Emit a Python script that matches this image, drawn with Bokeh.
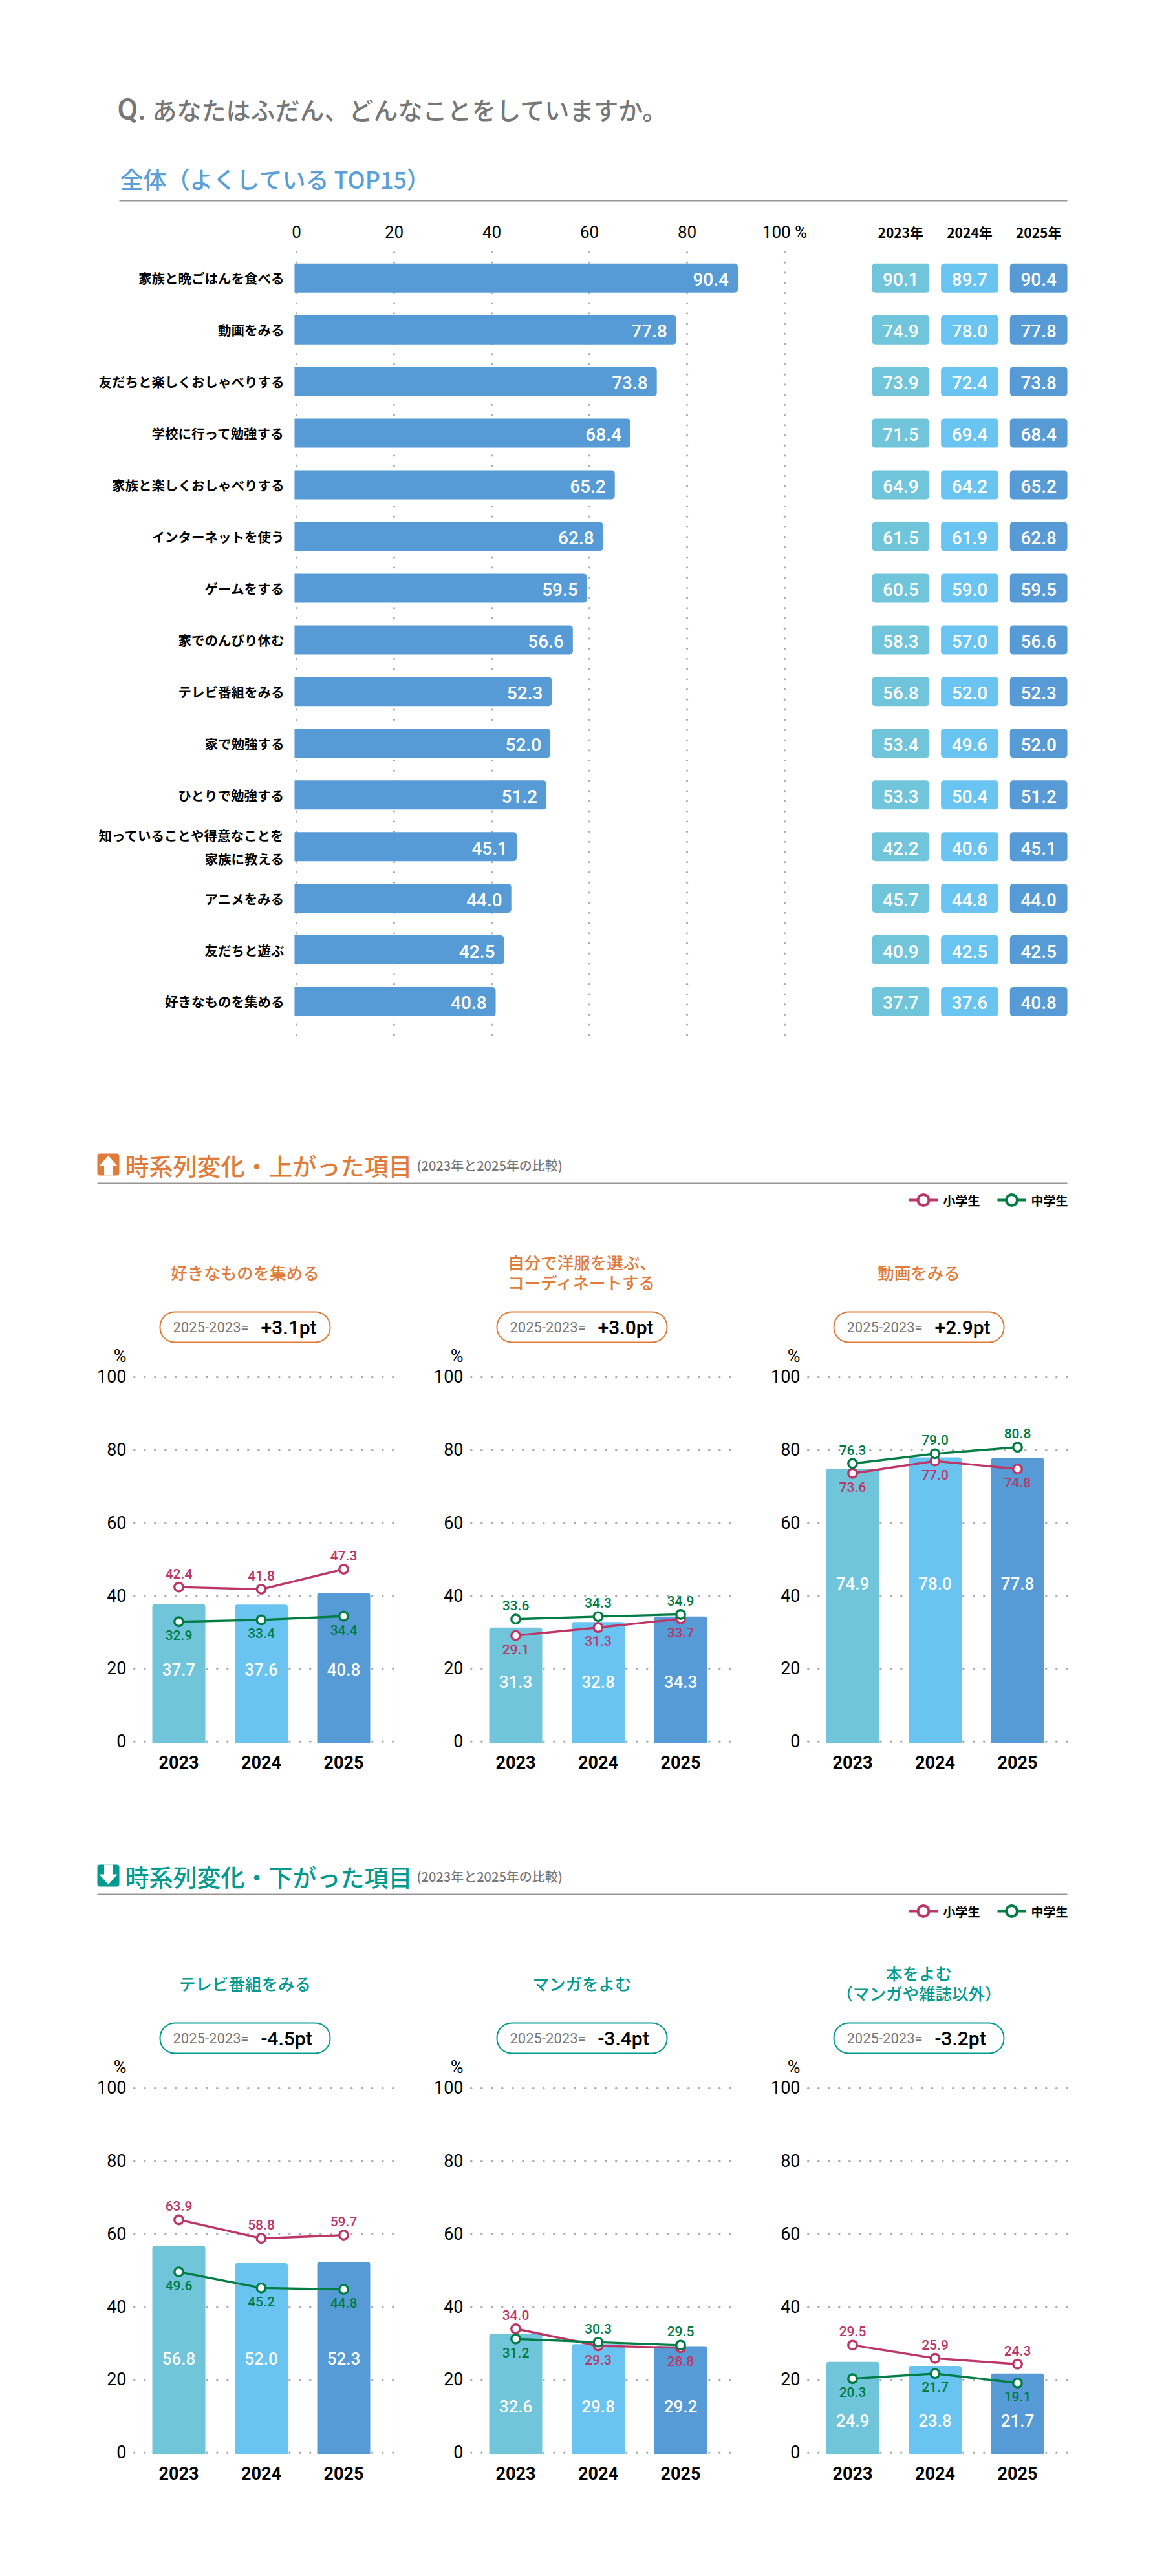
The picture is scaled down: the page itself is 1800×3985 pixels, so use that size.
from bokeh.plotting import figure
from bokeh.layouts import column, row
from bokeh.models import Range1d, FixedTicker, Spacer
from bokeh.core.properties import value
from bokeh.embed import file_html
from bokeh.resources import INLINE
import numpy as np

# ---------- data ----------
top_items = ["家族と晩ごはんを食べる", "動画をみる", "友だちと楽しくおしゃべりする", "学校に行って勉強する",
             "家族と楽しくおしゃべりする", "インターネットを使う", "ゲームをする", "家でのんびり休む",
             "テレビ番組をみる", "家で勉強する", "ひとりで勉強する",
             "知っていることや得意なことを\n家族に教える", "アニメをみる", "友だちと遊ぶ", "好きなものを集める"]
top_2023 = [90.1, 74.9, 73.9, 71.5, 64.9, 61.5, 60.5, 58.3, 56.8, 53.4, 53.3, 42.2, 45.7, 40.9, 37.7]
top_2024 = [89.7, 78.0, 72.4, 69.4, 64.2, 61.9, 59.0, 57.0, 52.0, 49.6, 50.4, 40.6, 44.8, 42.5, 37.6]
top_2025 = [90.4, 77.8, 73.8, 68.4, 65.2, 62.8, 59.5, 56.6, 52.3, 52.0, 51.2, 45.1, 44.0, 42.5, 40.8]
table_years = ["2023年", "2024年", "2025年"]
years = [2023, 2024, 2025]
y_ticks = [0, 20, 40, 60, 80, 100]
x_ticks = [0, 20, 40, 60, 80, 100]

chart_titles = [["好きなものを集める"], ["自分で洋服を選ぶ、", "コーディネートする"], ["動画をみる"],
                ["テレビ番組をみる"], ["マンガをよむ"], ["本をよむ", "（マンガや雑誌以外）"]]
chart_delta = ["+3.1pt", "+3.0pt", "+2.9pt", "-4.5pt", "-3.4pt", "-3.2pt"]
chart_total = [[37.7, 37.6, 40.8], [31.3, 32.8, 34.3], [74.9, 78.0, 77.8],
               [56.8, 52.0, 52.3], [32.6, 29.8, 29.2], [24.9, 23.8, 21.7]]
chart_elem = [[42.4, 41.8, 47.3], [29.1, 31.3, 33.7], [73.6, 77.0, 74.8],
              [63.9, 58.8, 59.7], [34.0, 29.3, 28.8], [29.5, 25.9, 24.3]]
chart_junior = [[32.9, 33.4, 34.4], [33.6, 34.3, 34.9], [76.3, 79.0, 80.8],
                [49.6, 45.2, 44.8], [31.2, 30.3, 29.5], [20.3, 21.7, 19.1]]
# where the figures in the bars sit (value axis), and which side of the marker the line labels take
bar_label_level = [19.8, 16.5, 43.4, 25.9, 12.8, 8.9]
elem_side = [[-1, -1, -1], [1, 1, 1], [1, 1, 1], [-1, -1, -1], [-1, 1, 1], [-1, -1, -1]]
junior_side = [[1, 1, 1], [-1, -1, -1], [-1, -1, -1], [1, 1, 1], [1, -1, -1], [1, 1, 1]]
percent_level = 105.8  # height of the "%" unit mark above the value axis

# ---------- style ----------
JP = "'Noto Sans CJK JP Medium', 'Noto Sans CJK JP'"
JPB = "Noto Sans CJK JP"
NUM = "Roboto"
NUMM = "'Roboto Medium', Roboto"
C23, C24, C25 = "#71C5DA", "#6AC4F1", "#579BD6"
PINK, GREEN = "#BC3667", "#007D45"
ORANGE, TEAL = "#E07B3A", "#009B8E"
GREY, DOT, RULE = "#777777", "#AAAAAA", "#999494"
INK = "#000000"


def txt(p, x, y, s, size, color, font=JP, style="normal", align="center", **kw):
    p.text(x=[x], y=[y], text=[s], text_font=value(font), text_font_size=f"{size}px", text_color=color,
           text_font_style=style, text_align=align, text_baseline="middle", **kw)


def base(**kw):
    p = figure(output_backend="svg", toolbar_location=None, background_fill_color="white",
               border_fill_color="white", **kw)
    p.outline_line_color = None
    p.grid.visible = False
    return p


def clean(ax):
    ax.axis_line_color = None
    ax.major_tick_line_color = None
    ax.minor_tick_line_color = None
    ax.major_tick_out = 0
    ax.major_tick_in = 0
    ax.major_label_text_color = INK


def header(top, bottom):
    return base(width=1784, height=bottom - top, x_range=Range1d(8, 1792), y_range=Range1d(bottom, top),
                x_axis_type=None, y_axis_type=None, min_border=0)


def section(top, bottom, dy, color, title, arrow_up):
    p = header(top, bottom)
    p.quad(left=[150], right=[184], top=[1784 + dy], bottom=[1818 + dy], fill_color=color, line_color=None,
           border_radius=4)
    ys = [1787, 1803, 1803, 1818, 1818, 1803, 1803]
    if not arrow_up:
        ys = [3602 - v for v in ys]
    p.patch([167, 181, 173.5, 173.5, 160.5, 160.5, 153], [v + dy for v in ys], fill_color="white", line_color=None)
    txt(p, 193, 1802 + dy, title, 37, color, align="left")
    txt(p, 644, 1802 + dy, "(2023年と2025年の比較)", 20, GREY, align="left")
    p.line([150, 1650], [1830 + dy, 1830 + dy], line_color=RULE, line_width=2)
    for cx, c, name, tx in [(1427.5, PINK, "小学生", 1458), (1564, GREEN, "中学生", 1594)]:
        p.line([cx - 22, cx + 22], [1856 + dy, 1856 + dy], line_color=c, line_width=4)
        p.scatter([cx], [1856 + dy], size=17, fill_color="white", line_color=c, line_width=4)
        txt(p, tx, 1856 + dy, name, 19, INK, font=JPB, align="left", style="bold")
    return p


def chart(i, off, dy, color):
    P0 = 2693.7 + dy
    SC = 5.6375
    PX = 127.5
    CX = 403.5 + off
    L, R, TOP, BOT = 196 + off, 611 + off, 1930 + dy, 2700 + dy
    p = base(width=521, height=850, min_border_left=60, min_border_right=46, min_border_top=0, min_border_bottom=80,
             x_range=Range1d(2024 + (L - CX) / PX, 2024 + (R - CX) / PX),
             y_range=Range1d((P0 - BOT) / SC, (P0 - TOP) / SC))
    p.extra_x_ranges["px"] = Range1d(L, R)
    p.extra_y_ranges["px"] = Range1d(BOT, TOP)
    px = dict(x_range_name="px", y_range_name="px")

    p.xaxis.ticker = FixedTicker(ticks=years)
    p.yaxis.ticker = FixedTicker(ticks=y_ticks + [percent_level])
    p.yaxis.major_label_overrides = {percent_level: "%"}
    for ax in (p.xaxis[0], p.yaxis[0]):
        clean(ax)
        ax.major_label_text_font = NUM
    p.xaxis.major_label_text_font_size = "27px"
    p.xaxis.major_label_text_font_style = "bold"
    p.xaxis.major_label_standoff = 15
    p.yaxis.major_label_text_font_size = "27px"
    p.yaxis.major_label_standoff = 1

    # dotted grid
    gx = 2024 + (207.3 + off + 16 * np.arange(26) - CX) / PX
    for t in y_ticks:
        p.scatter(gx, [t] * 26, size=3.4, color=DOT, line_color=None)

    # bars
    p.vbar(x=years, top=chart_total[i], bottom=-0.4, width=82 / PX, color=[C23, C24, C25], line_color=None,
           border_radius=(4, 4, 0, 0))
    p.text(x=years, y=[bar_label_level[i]] * 3, text=[f"{v:.1f}" for v in chart_total[i]], text_color="white",
           text_font=value(NUMM), text_font_size="26px", text_align="center",
           text_baseline="middle")

    # lines
    for vals, c, side in [(chart_elem[i], PINK, elem_side[i]), (chart_junior[i], GREEN, junior_side[i])]:
        p.line(years, vals, line_color=c, line_width=3.4)
        p.scatter(years, vals, size=13.5, fill_color="white", line_color=c, line_width=3.4)
        p.text(x=years, y=vals, text=[f"{v:.1f}" for v in vals], text_color=c, text_font=value(NUMM),
               text_font_size="21px", text_align="center", text_baseline="middle",
               y_offset=[21 * s for s in side])

    # heading above the plot
    lines = chart_titles[i]
    ly = [1967 + dy] if len(lines) == 1 else [1951 + dy, 1982 + dy]
    for s, y in zip(lines, ly):
        txt(p, 378.5 + off, y, s, 25.5, color, **px)
    p.quad(left=[247 + off], right=[510 + off], top=[2029 + dy], bottom=[2076 + dy], fill_color="white",
           line_color=color, line_width=2, border_radius=23, **px)
    txt(p, 267 + off, 2052.5 + dy, "2025-2023=", 22, GREY, font=NUM, align="left", **px)
    txt(p, 403 + off, 2052.5 + dy, chart_delta[i], 30, INK, font=NUMM, align="left", **px)
    return p


# ---------- top block ----------
head = header(8, 340)
txt(head, 181, 168, "Q.", 46, GREY, font=NUMM, align="left")
txt(head, 235, 168, "あなたはふだん、どんなことをしていますか。", 38, GREY, align="left")
txt(head, 185, 275, "全体（よくしている TOP15）", 36, "#5A9FD8", align="left")
head.line([184, 1650], [310, 310], line_color=RULE, line_width=2)

ranks = list(range(1, len(top_items) + 1))
R0, RP = 429.8, 79.94
rank_at = lambda py: 1 + (py - R0) / RP
X0, XS = 458, 7.55
bars = base(width=1292, height=1300, min_border_left=440, min_border_right=70, min_border_top=48, min_border_bottom=20,
            x_range=Range1d((448 - X0) / XS, (1230 - X0) / XS), y_range=Range1d(rank_at(1620), rank_at(388)),
            x_axis_location="above")
bars.extra_y_ranges["px"] = Range1d(1620, 388)
bars.xaxis.ticker = FixedTicker(ticks=x_ticks)
bars.xaxis.major_label_overrides = {100: "100 %"}
bars.yaxis.ticker = FixedTicker(ticks=ranks)
bars.yaxis.major_label_overrides = dict(zip(ranks, top_items))
for ax in (bars.xaxis[0], bars.yaxis[0]):
    clean(ax)
bars.xaxis.major_label_text_font = NUM
bars.xaxis.major_label_text_font_size = "26px"
bars.xaxis.major_label_standoff = 15
bars.yaxis.major_label_text_font = JPB
bars.yaxis.major_label_text_font_style = "bold"
bars.yaxis.major_label_text_font_size = "20.5px"
bars.yaxis.major_label_standoff = 9
for t in x_ticks:
    n = 78
    bars.scatter([t] * n, 390 + 15.72 * np.arange(n), size=3.2, color=DOT, line_color=None, y_range_name="px")
bars.hbar(y=ranks, left=-0.4, right=top_2025, height=45 / RP, color=C25, line_color=None, border_radius=(0, 5, 5, 0))
bars.text(x=top_2025, y=ranks, text=[f"{v:.1f}" for v in top_2025], x_offset=-14, y_offset=2, text_color="white",
          text_font=value(NUMM), text_font_size="28px", text_align="right",
          text_baseline="middle")

table = base(width=492, height=1300, min_border_left=39, min_border_right=133, min_border_top=48, min_border_bottom=20,
             x_range=table_years, y_range=Range1d(rank_at(1620), rank_at(388)), x_axis_location="above",
             y_axis_type=None)
clean(table.xaxis[0])
table.xaxis.major_label_text_font = JPB
table.xaxis.major_label_text_font_style = "bold"
table.xaxis.major_label_text_font_size = "21px"
table.xaxis.major_label_standoff = 15
for yr, vals, c in zip(table_years, (top_2023, top_2024, top_2025), (C23, C24, C25)):
    table.vbar(x=[yr] * len(ranks), bottom=[r - 22.5 / RP for r in ranks], top=[r + 22.5 / RP for r in ranks],
               width=0.832, color=c, line_color=None, border_radius=5)
    table.text(x=[yr] * len(ranks), y=ranks, text=[f"{v:.1f}" for v in vals], y_offset=2, text_color="white",
               text_font=value(NUMM), text_font_size="28px", text_align="center",
               text_baseline="middle")

# ---------- assemble ----------
sec2 = section(1640, 1930, 0, ORANGE, "時系列変化・上がった項目", True)
sec3 = section(2780, 3030, 1100, TEAL, "時系列変化・下がった項目", False)
row2 = row(Spacer(width=128), *[chart(i, 521 * i, 0, ORANGE) for i in range(3)])
row3 = row(Spacer(width=128), *[chart(i + 3, 521 * i, 1100, TEAL) for i in range(3)])
page = row(Spacer(width=8), column(Spacer(height=8), head, row(bars, table), sec2, row2, sec3, row3))

open("out.html", "w").write(file_html(page, INLINE))
